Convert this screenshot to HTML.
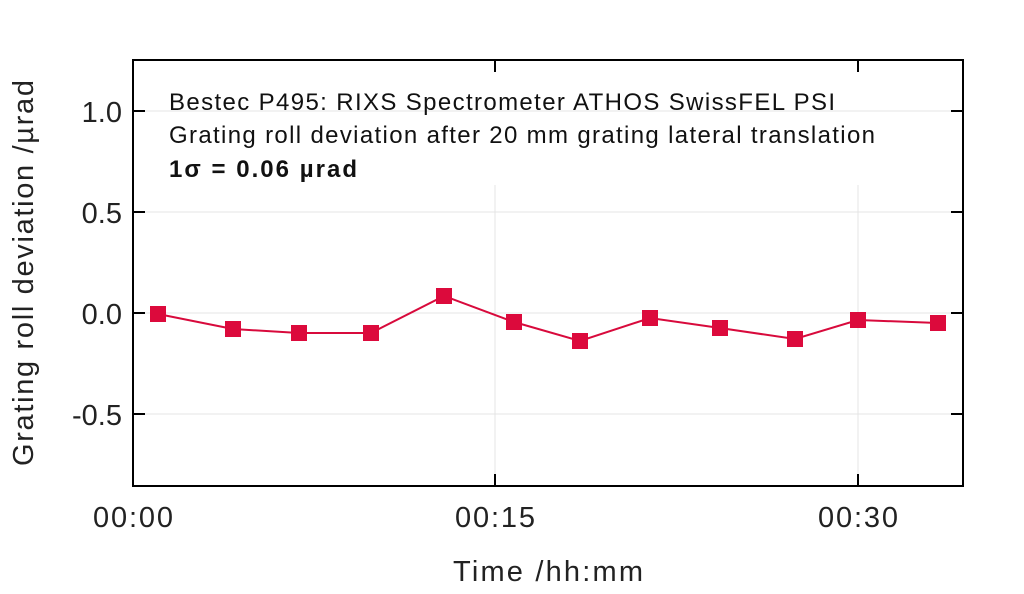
<!DOCTYPE html>
<html><head><style>body{margin:0;background:#fff}</style></head><body>
<svg width="1024" height="589" xmlns="http://www.w3.org/2000/svg" font-family="Liberation Sans, sans-serif">
<rect width="1024" height="589" fill="#fff"/>
<g stroke="#e4e4e4" stroke-width="1">
<line x1="133" y1="111" x2="963" y2="111"/><line x1="133" y1="212" x2="963" y2="212"/>
<line x1="133" y1="313" x2="963" y2="313"/><line x1="133" y1="414" x2="963" y2="414"/>
<line x1="495" y1="185" x2="495" y2="486"/><line x1="858" y1="185" x2="858" y2="486"/>
</g>
<rect x="133" y="60" width="830" height="426" fill="none" stroke="#000" stroke-width="2"/>
<g stroke="#000" stroke-width="2">
<line x1="133" y1="111" x2="145" y2="111"/><line x1="133" y1="212" x2="145" y2="212"/><line x1="133" y1="313" x2="145" y2="313"/><line x1="133" y1="414" x2="145" y2="414"/>
<line x1="951" y1="111" x2="963" y2="111"/><line x1="951" y1="212" x2="963" y2="212"/><line x1="951" y1="313" x2="963" y2="313"/><line x1="951" y1="414" x2="963" y2="414"/>
<line x1="495" y1="486" x2="495" y2="474"/><line x1="858" y1="486" x2="858" y2="474"/>
<line x1="495" y1="60" x2="495" y2="72"/><line x1="858" y1="60" x2="858" y2="72"/>
</g>
<g font-size="29" fill="#222" text-anchor="end">
<text x="122" y="122">1.0</text><text x="122" y="223">0.5</text><text x="122" y="324">0.0</text><text x="122" y="425">-0.5</text>
</g>
<g font-size="29" fill="#222">
<text x="93" y="527" textLength="80">00:00</text><text x="455" y="527" textLength="80">00:15</text><text x="818" y="527" textLength="80">00:30</text>
<text x="453" y="581" textLength="190">Time /hh:mm</text>
</g>
<text transform="translate(33,466) rotate(-90)" font-size="29" fill="#222" textLength="386">Grating roll deviation /µrad</text>
<g font-size="24" fill="#111">
<text x="169" y="110" textLength="666">Bestec P495: RIXS Spectrometer ATHOS SwissFEL PSI</text>
<text x="169" y="143" textLength="706">Grating roll deviation after 20 mm grating lateral translation</text>
<text x="169" y="177" font-weight="bold" textLength="188">1σ = 0.06 µrad</text>
</g>
<polyline fill="none" stroke="#d80a3c" stroke-width="2" points="158,314 233,329 299,333 371,333 444,296 514,322 580,341 650,318 720,328 795,339 858,320 938,323"/>
<g fill="#dc0a3c">
<rect x="150" y="306" width="16" height="16"/><rect x="225" y="321" width="16" height="16"/><rect x="291" y="325" width="16" height="16"/><rect x="363" y="325" width="16" height="16"/><rect x="436" y="288" width="16" height="16"/><rect x="506" y="314" width="16" height="16"/><rect x="572" y="333" width="16" height="16"/><rect x="642" y="310" width="16" height="16"/><rect x="712" y="320" width="16" height="16"/><rect x="787" y="331" width="16" height="16"/><rect x="850" y="312" width="16" height="16"/><rect x="930" y="315" width="16" height="16"/>
</g>
</svg>
</body></html>
